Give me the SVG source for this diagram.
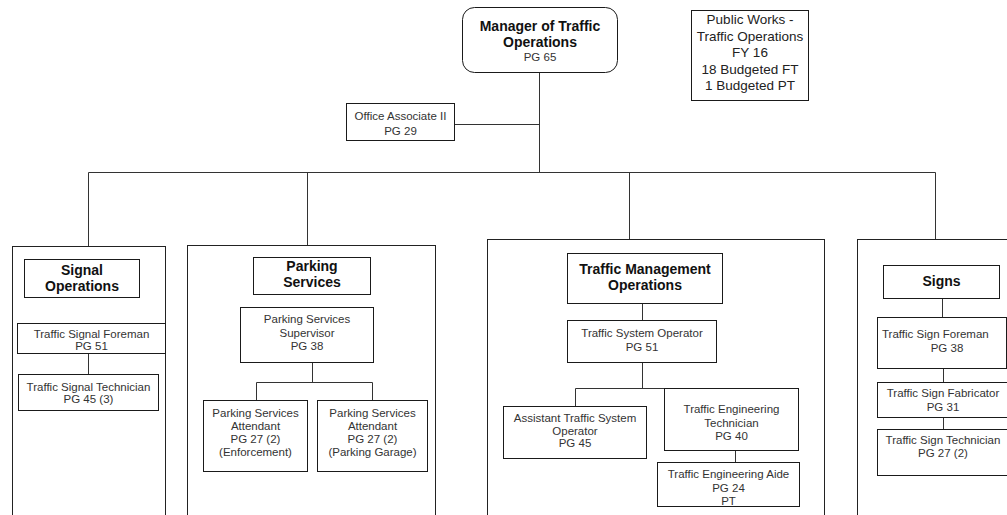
<svg xmlns="http://www.w3.org/2000/svg" width="1007" height="515" viewBox="0 0 1007 515">
  <style>
    .box { fill: #ffffff; stroke: #1a1a1a; stroke-width: 1; }
    .col { fill: #ffffff; stroke: #222222; stroke-width: 1; }
    .wire { fill: none; stroke: #333333; stroke-width: 1; }
    .t { font-family: "Liberation Sans", Arial, sans-serif; font-size: 11.5px; fill: #333333; text-anchor: middle; }
    .h { font-family: "Liberation Sans", Arial, sans-serif; font-size: 14px; font-weight: bold; fill: #111111; text-anchor: middle; }
    .note { font-family: "Liberation Sans", Arial, sans-serif; font-size: 13.5px; fill: #222222; text-anchor: middle; }
  </style>
  <rect width="1007" height="515" fill="#ffffff"/>

  <!-- division frames -->
  <g id="frames">
    <rect class="col" x="12.5" y="246.5" width="153" height="300"/>
    <rect class="col" x="187.5" y="245.5" width="248" height="300"/>
    <rect class="col" x="487.5" y="239.5" width="337" height="300"/>
    <rect class="col" x="857.5" y="239.5" width="200" height="300"/>
  </g>

  <!-- connectors -->
  <g id="connectors">
    <path class="wire" d="M539.5 73 V172.5"/>
    <path class="wire" d="M455 124.5 H539.5"/>
    <path class="wire" d="M88.5 172.5 H935.5"/>
    <path class="wire" d="M88.5 172.5 V246"/>
    <path class="wire" d="M307.5 172.5 V245"/>
    <path class="wire" d="M629.5 172.5 V239"/>
    <path class="wire" d="M935.5 172.5 V239"/>
    <path class="wire" d="M88.5 353 V374"/>
    <path class="wire" d="M312.5 362 V382.5 M256.5 400 V382.5 H372.5 V400"/>
    <path class="wire" d="M642.5 303 V320"/>
    <path class="wire" d="M642.5 362 V388.5 M575.5 406 V388.5 H735.5"/>
    <path class="wire" d="M735.5 450 V462"/>
    <path class="wire" d="M942.5 298 V317"/>
    <path class="wire" d="M943.5 368 V382"/>
    <path class="wire" d="M943.5 417 V429"/>
  </g>

  <g id="manager">
    <rect class="box" x="462.5" y="7.5" width="155" height="65" rx="12"/>
    <text class="h" x="540" y="31">Manager of Traffic</text>
    <text class="h" x="540" y="47">Operations</text>
    <text class="t" x="540" y="61">PG 65</text>
  </g>

  <g id="summary">
    <rect class="box" x="691.5" y="10.5" width="117" height="90"/>
    <text class="note" x="750" y="24">Public Works -</text>
    <text class="note" x="750" y="40.5">Traffic Operations</text>
    <text class="note" x="750" y="57">FY 16</text>
    <text class="note" x="750" y="73.5">18 Budgeted FT</text>
    <text class="note" x="750" y="90">1 Budgeted PT</text>
  </g>

  <g id="office-associate">
    <rect class="box" x="346.5" y="103.5" width="108" height="37"/>
    <text class="t" x="400.5" y="120">Office Associate II</text>
    <text class="t" x="400.5" y="135">PG 29</text>
  </g>

  <!-- Signal Operations -->
  <g id="signal-operations">
    <rect class="box" x="24.5" y="259.5" width="115" height="38"/>
    <text class="h" x="82" y="275">Signal</text>
    <text class="h" x="82" y="291">Operations</text>
  </g>
  <g id="signal-foreman">
    <rect class="box" x="17.5" y="323.5" width="148" height="30"/>
    <text class="t" x="91.5" y="338">Traffic Signal Foreman</text>
    <text class="t" x="91.5" y="349.5">PG 51</text>
  </g>
  <g id="signal-technician">
    <rect class="box" x="18.5" y="374.5" width="140" height="36"/>
    <text class="t" x="88.5" y="391">Traffic Signal Technician</text>
    <text class="t" x="88.5" y="403">PG 45 (3)</text>
  </g>

  <!-- Parking Services -->
  <g id="parking-services">
    <rect class="box" x="253.5" y="257.5" width="117" height="37"/>
    <text class="h" x="312" y="271">Parking</text>
    <text class="h" x="312" y="287">Services</text>
  </g>
  <g id="parking-supervisor">
    <rect class="box" x="240.5" y="307.5" width="133" height="55"/>
    <text class="t" x="307" y="323">Parking Services</text>
    <text class="t" x="307" y="336.5">Supervisor</text>
    <text class="t" x="307" y="350">PG 38</text>
  </g>
  <g id="attendant-enforcement">
    <rect class="box" x="203.5" y="400.5" width="104" height="71"/>
    <text class="t" x="255.5" y="416.5">Parking Services</text>
    <text class="t" x="255.5" y="429.5">Attendant</text>
    <text class="t" x="255.5" y="443">PG 27 (2)</text>
    <text class="t" x="255.5" y="456">(Enforcement)</text>
  </g>
  <g id="attendant-garage">
    <rect class="box" x="317.5" y="400.5" width="110" height="71"/>
    <text class="t" x="372.5" y="416.5">Parking Services</text>
    <text class="t" x="372.5" y="429.5">Attendant</text>
    <text class="t" x="372.5" y="443">PG 27 (2)</text>
    <text class="t" x="372.5" y="456">(Parking Garage)</text>
  </g>

  <!-- Traffic Management Operations -->
  <g id="traffic-management">
    <rect class="box" x="567.5" y="253.5" width="155" height="50"/>
    <text class="h" x="645" y="274">Traffic Management</text>
    <text class="h" x="645" y="290">Operations</text>
  </g>
  <g id="system-operator">
    <rect class="box" x="567.5" y="320.5" width="149" height="42"/>
    <text class="t" x="642" y="337">Traffic System Operator</text>
    <text class="t" x="642" y="351">PG 51</text>
  </g>
  <g id="assistant-operator">
    <rect class="box" x="503.5" y="406.5" width="143" height="52"/>
    <text class="t" x="575" y="422">Assistant Traffic System</text>
    <text class="t" x="575" y="434.5">Operator</text>
    <text class="t" x="575" y="447">PG 45</text>
  </g>
  <g id="engineering-technician">
    <rect class="box" x="664.5" y="388.5" width="134" height="62"/>
    <text class="t" x="731.5" y="413">Traffic Engineering</text>
    <text class="t" x="731.5" y="426.5">Technician</text>
    <text class="t" x="731.5" y="440">PG 40</text>
  </g>
  <g id="engineering-aide">
    <rect class="box" x="657.5" y="462.5" width="142" height="44"/>
    <text class="t" x="728.5" y="478">Traffic Engineering Aide</text>
    <text class="t" x="728.5" y="491.5">PG 24</text>
    <text class="t" x="728.5" y="504.5">PT</text>
  </g>

  <!-- Signs -->
  <g id="signs">
    <rect class="box" x="883.5" y="265.5" width="116" height="33"/>
    <text class="h" x="941.5" y="286">Signs</text>
  </g>
  <g id="sign-foreman">
    <rect class="box" x="877.5" y="317.5" width="129" height="51"/>
    <text class="t" x="882" y="338" style="text-anchor:start">Traffic Sign Foreman</text>
    <text class="t" x="947" y="352">PG 38</text>
  </g>
  <g id="sign-fabricator">
    <rect class="box" x="877.5" y="382.5" width="131" height="35"/>
    <text class="t" x="943" y="397">Traffic Sign Fabricator</text>
    <text class="t" x="943" y="410.5">PG 31</text>
  </g>
  <g id="sign-technician">
    <rect class="box" x="877.5" y="429.5" width="131" height="46"/>
    <text class="t" x="943" y="443.5">Traffic Sign Technician</text>
    <text class="t" x="943" y="457">PG 27 (2)</text>
  </g>
</svg>
